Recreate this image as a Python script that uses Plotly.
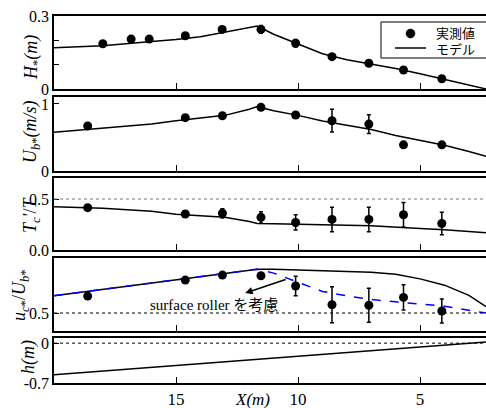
import plotly.graph_objects as go

# ---------------- data ----------------
x_model = [20, 18, 16, 15, 14, 13, 12, 11.67, 11, 10, 9, 8, 7, 6, 5, 4, 3, 2.3]
H_model = [0.170, 0.178, 0.195, 0.203, 0.215, 0.235, 0.252, 0.259, 0.225, 0.186, 0.145, 0.120, 0.103, 0.084, 0.063, 0.040, 0.018, 0.0]
U_model = [0.577, 0.64, 0.70, 0.75, 0.79, 0.83, 0.92, 0.96, 0.90, 0.83, 0.745, 0.68, 0.62, 0.53, 0.455, 0.385, 0.29, 0.22]
T_model = [0.425, 0.41, 0.38, 0.35, 0.335, 0.32, 0.28, 0.26, 0.258, 0.255, 0.248, 0.243, 0.238, 0.228, 0.212, 0.198, 0.182, 0.17]
u_model = [0.596, 0.632, 0.667, 0.685, 0.703, 0.721, 0.738, 0.744, 0.743, 0.740, 0.737, 0.733, 0.727, 0.715, 0.690, 0.655, 0.598, 0.535]
u_roller = [0.596, 0.632, 0.667, 0.685, 0.703, 0.721, 0.738, 0.744, 0.722, 0.670, 0.620, 0.595, 0.575, 0.562, 0.550, 0.538, 0.515, 0.500]
x_bed = [20, 2.3]
h_bed = [-0.556, 0.02]

x_H = [18.0, 16.84, 16.1, 14.62, 13.11, 11.52, 10.1, 8.61, 7.1, 5.68, 4.11]
H_obs = [0.186, 0.205, 0.205, 0.219, 0.245, 0.245, 0.188, 0.133, 0.106, 0.078, 0.042]
H_err = [0.003, 0.003, 0.003, 0.003, 0.003, 0.016, 0.015, 0.006, 0.003, 0.003, 0.003]

x_obs = [18.62, 14.62, 13.1, 11.52, 10.1, 8.61, 7.1, 5.68, 4.11]
U_obs = [0.672, 0.796, 0.825, 0.95, 0.836, 0.75, 0.70, 0.39, 0.39]
U_err = [0.01, 0.01, 0.01, 0.02, 0.03, 0.17, 0.14, 0.04, 0.03]
T_obs = [0.415, 0.353, 0.36, 0.32, 0.27, 0.30, 0.30, 0.346, 0.26]
T_err = [0.02, 0.02, 0.045, 0.055, 0.075, 0.12, 0.12, 0.12, 0.11]
u_obs = [0.594, 0.683, 0.711, 0.707, 0.65, 0.546, 0.543, 0.587, 0.511]
u_err = [0.01, 0.01, 0.01, 0.01, 0.054, 0.10, 0.095, 0.07, 0.067]

x_ticks = [15, 10, 5]
x_ticklabels = ["15", "10", "5"]
legend_names = ["実測値", "モデル"]

# ---------------- layout helpers ----------------
W, H = 486, 408
ML, MR, MT, MB = 54, 0, 16, 25
PW = W - ML - MR
PH = H - MT - MB


def ydom(top, bottom):
    return [(H - MB - bottom) / PH, (H - MB - top) / PH]


def px_x(p):
    return (p - ML) / PW


def px_y(p):
    return (H - MB - p) / PH


domains = [ydom(16, 89), ydom(97, 171), ydom(178, 250), ydom(258, 331), ydom(338, 383)]
yranges = [[0, 0.3], [0, 1.104], [0, 0.706], [0.4, 0.806], [-0.7, 0.09]]
ytickvals = [[0, 0.1, 0.2, 0.3], [0, 1], [0, 0.5], [0.5], [-0.7, 0]]
yticktext = [["0", "", "", "0.3"], ["0", "1"], ["0.0", "0.5"], ["0.5"], ["-0.7", "0"]]

SERIF = "Liberation Serif, Times New Roman, serif"
JP = "Noto Sans CJK JP, sans-serif"

fig = go.Figure()

marker = dict(color="black", size=9, symbol="circle")
eb = lambda arr: dict(type="data", array=arr, visible=True, color="black", thickness=1.5, width=2)
line_k = dict(color="black", width=1.5)

# panel 1
fig.add_trace(go.Scatter(x=x_H, y=H_obs, error_y=eb(H_err), mode="markers", marker=marker,
                         name=legend_names[0], xaxis="x", yaxis="y"))
fig.add_trace(go.Scatter(x=x_model, y=H_model, mode="lines", line=line_k,
                         name=legend_names[1], xaxis="x", yaxis="y"))
# panel 2
fig.add_trace(go.Scatter(x=x_model, y=U_model, mode="lines", line=line_k, xaxis="x2", yaxis="y2"))
fig.add_trace(go.Scatter(x=x_obs, y=U_obs, error_y=eb(U_err), mode="markers", marker=marker,
                         xaxis="x2", yaxis="y2"))
# panel 3
fig.add_trace(go.Scatter(x=x_model, y=T_model, mode="lines", line=line_k, xaxis="x3", yaxis="y3"))
fig.add_trace(go.Scatter(x=x_obs, y=T_obs, error_y=eb(T_err), mode="markers", marker=marker,
                         xaxis="x3", yaxis="y3"))
# panel 4
fig.add_trace(go.Scatter(x=x_model, y=u_model, mode="lines", line=line_k, xaxis="x4", yaxis="y4"))
fig.add_trace(go.Scatter(x=x_model, y=u_roller, mode="lines", line=dict(color="#0000ff", width=1.5, dash="dash"),
                         xaxis="x4", yaxis="y4"))
fig.add_trace(go.Scatter(x=x_obs, y=u_obs, error_y=eb(u_err), mode="markers", marker=marker,
                         xaxis="x4", yaxis="y4"))
# panel 5
fig.add_trace(go.Scatter(x=x_bed, y=h_bed, mode="lines", line=line_k, xaxis="x5", yaxis="y5"))

xrange = [20, 2.3]
layout = dict(
    width=W, height=H,
    margin=dict(l=ML, r=MR, t=MT, b=MB, pad=0),
    paper_bgcolor="white", plot_bgcolor="white",
    font=dict(family=SERIF, size=16, color="black"),
    showlegend=False,
)
for i in range(5):
    s = "" if i == 0 else str(i + 1)
    layout["xaxis" + s] = dict(
        domain=[0, 1], range=xrange, anchor="y" + s,
        showline=True, linecolor="black", linewidth=1.5, mirror=True,
        ticks="inside", ticklen=6, tickwidth=1, tickcolor="black",
        tickvals=x_ticks, ticktext=x_ticklabels,
        showticklabels=(i == 4), showgrid=False, zeroline=False,
        tickfont=dict(family=SERIF, size=17),
    )
    if i > 0:
        layout["xaxis" + s]["matches"] = "x"
    layout["yaxis" + s] = dict(
        domain=domains[i], range=yranges[i], anchor="x" + s,
        showline=True, linecolor="black", linewidth=1.5, mirror=False,
        ticks="inside", ticklen=5, tickwidth=1, tickcolor="black",
        tickvals=ytickvals[i], ticktext=yticktext[i],
        showgrid=False, zeroline=False,
        tickfont=dict(family=SERIF, size=16),
    )
fig.update_layout(**layout)

# reference lines
fig.add_shape(type="line", xref="x3 domain", yref="y3", x0=0, x1=1, y0=0.5, y1=0.5,
              line=dict(color="#777777", width=1, dash="dot"))
fig.add_shape(type="line", xref="x4 domain", yref="y4", x0=0, x1=1, y0=0.5, y1=0.5,
              line=dict(color="black", width=1, dash="dot"))
fig.add_shape(type="line", xref="x5 domain", yref="y5", x0=0, x1=1, y0=0, y1=0,
              line=dict(color="black", width=1, dash="dot"))

# legend box (drawn manually to match spacing)
fig.add_shape(type="rect", xref="paper", yref="paper", x0=px_x(381), x1=px_x(492), y0=px_y(58), y1=px_y(22),
              line=dict(color="black", width=1), fillcolor="white", layer="above")
fig.add_shape(type="circle", xref="paper", yref="paper", x0=px_x(406), x1=px_x(415), y0=px_y(38), y1=px_y(29),
              line=dict(color="black", width=0.5), fillcolor="black", layer="above")
fig.add_shape(type="line", xref="paper", yref="paper", x0=px_x(395), x1=px_x(426), y0=px_y(48), y1=px_y(48),
              line=dict(color="black", width=1.5), layer="above")

ann = []
ann.append(dict(text=legend_names[0], xref="paper", yref="paper", x=px_x(434), y=px_y(32.5),
                xanchor="left", yanchor="middle", showarrow=False,
                font=dict(family=JP, size=13, color="black")))
ann.append(dict(text=legend_names[1], xref="paper", yref="paper", x=px_x(434), y=px_y(48.5),
                xanchor="left", yanchor="middle", showarrow=False,
                font=dict(family=JP, size=13, color="black")))
titles = [
    ("<i>H</i><sub>*</sub><i>(m)</i>", 32, 58),
    ("<i>U</i><sub><i>b</i>*</sub><i>(m/s)</i>", 31, 132),
    ("<i>T</i><sub><i>c</i></sub><i>'</i>/<i>T</i>", 31, 215),
    ("<i>u</i><sub><i>c</i>*</sub>/<i>U</i><sub><i>b</i>*</sub>", 20, 295),
    ("<i>h(m)</i>", 28, 357),
]
for t, px, py in titles:
    ann.append(dict(text=t, xref="paper", yref="paper", x=px_x(px), y=px_y(py),
                    xanchor="center", yanchor="middle", textangle=-90, showarrow=False,
                    font=dict(family=SERIF, size=18, color="black")))
ann.append(dict(text="<i>X(m)</i>", xref="paper", yref="paper", x=px_x(252), y=px_y(399),
                xanchor="center", yanchor="middle", showarrow=False,
                font=dict(family=SERIF, size=17, color="black")))
ann.append(dict(text="surface roller を考慮", xref="x4", yref="y4", x=13.45, y=0.544,
                xanchor="center", yanchor="middle", showarrow=False,
                font=dict(family="Liberation Serif, Noto Sans CJK JP", size=15, color="black")))
ann.append(dict(text="", xref="x4", yref="y4", x=12.17, y=0.611,
                axref="x4", ayref="y4", ax=10.45, ay=0.689,
                showarrow=True, arrowhead=2, arrowsize=1, arrowwidth=1.5, arrowcolor="black"))
fig.update_layout(annotations=ann)

fig.write_html("out.html", config={"displayModeBar": False},
               post_script="document.body.style.margin='0px';document.body.style.overflow='hidden';")
